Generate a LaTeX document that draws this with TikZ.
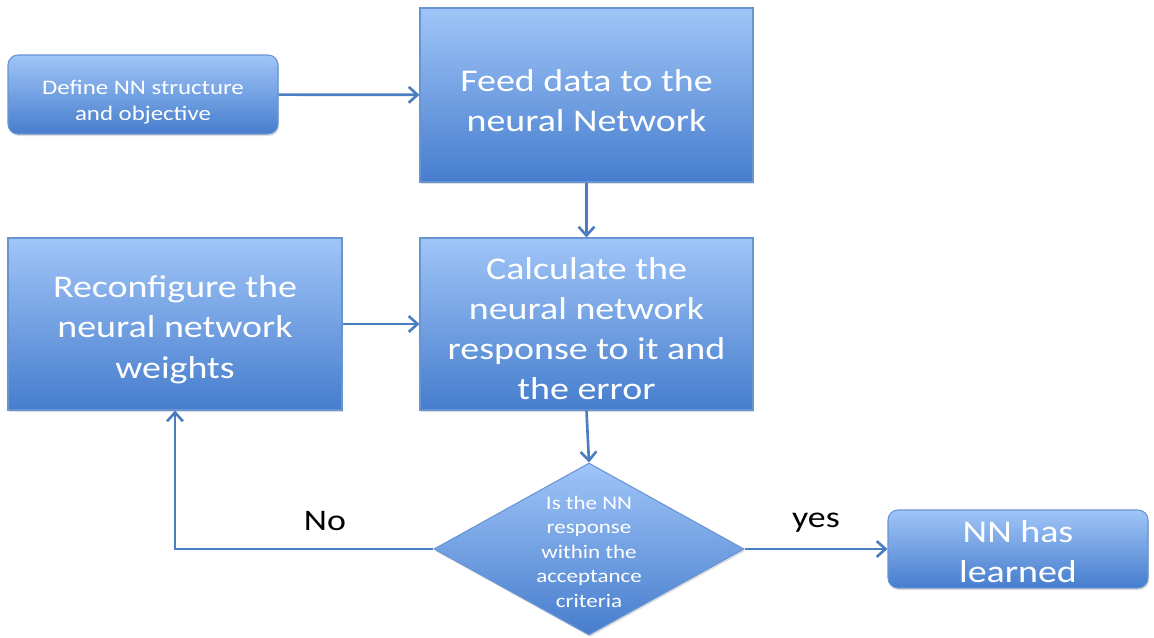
\documentclass[tikz,border=0pt]{standalone}
\usepackage{fontspec}
\setmainfont{Carlito}[FakeStretch=1.2]
\usetikzlibrary{arrows.meta,shapes.geometric,shadows}

\definecolor{boxtop}{RGB}{160,197,248}
\definecolor{boxbot}{RGB}{70,125,205}
\definecolor{boxline}{RGB}{105,148,212}
\definecolor{flow}{RGB}{74,126,193}

% a tall first-line strut that sets the text a little lower in its box
\newcommand{\firstlift}[1]{\rule{0pt}{#1}}

\begin{document}
\begin{tikzpicture}[x=0.02cm,y=-0.02cm,
  blockbase/.style={draw=boxline, line width=0.6pt, shading=axis,
    top color=boxtop, bottom color=boxbot, text=white, align=center,
    inner sep=0pt,
    drop shadow={shadow xshift=0.6pt, shadow yshift=-1.2pt, opacity=0.25}},
  bigbox/.style={blockbase, rectangle, font=\fontsize{18}{22.8}\selectfont},
  roundbox/.style={blockbase, rectangle, rounded corners=0.2cm},
  decision/.style={blockbase, diamond},
  flowline/.style={draw=flow, line width=1.5pt,
    -{Straight Barb[length=5pt,width=9pt,line width=1.5pt]}},
  edgelabel/.style={text=black, font=\fontsize{17}{20}\selectfont, inner sep=0pt, anchor=base}
]
\useasboundingbox (0,0) rectangle (1154,637);

% process steps
\node[roundbox, minimum width=270*0.02cm, minimum height=79*0.02cm,
      font=\fontsize{11.8}{14.7}\selectfont] (define) at (143,94.5)
  {\firstlift{16.5pt}Define NN structure\\and objective};
\node[bigbox, minimum width=333*0.02cm, minimum height=174*0.02cm] (feed) at (586.5,95)
  {\firstlift{18.5pt}Feed data to the\\neural Network};
\node[bigbox, minimum width=333*0.02cm, minimum height=172*0.02cm] (calc) at (586.5,324)
  {\firstlift{17.5pt}Calculate the\\neural network\\response to it and\\the error};
\node[bigbox, minimum width=334*0.02cm, minimum height=172*0.02cm] (reconf) at (175,324)
  {\firstlift{19pt}Reconfigure the\\neural network\\weights};

% decision and outcome
\node[decision, minimum width=310*0.02cm, minimum height=172*0.02cm, aspect=1.8] (dec) at (589,549) {};
\node[text=white, align=center, inner sep=0pt,
      font=\fontsize{10.9}{13.9}\selectfont] (dectext) at (dec.center)
  {\firstlift{10.5pt}Is the NN\\response\\within the\\acceptance\\criteria};
\node[roundbox, minimum width=260*0.02cm, minimum height=78*0.02cm,
      font=\fontsize{18}{22.8}\selectfont] (done) at (1018,549)
  {\firstlift{16pt}NN has\\learned};

% connectors
\draw[flowline] (define) -- (feed);
\draw[flowline] (feed) -- (calc);
\draw[flowline] (reconf) -- (calc);
\draw[flowline] (calc.south) -- (dec.north);
\draw[flowline] (dec.west) -| node[pos=0.21, edgelabel, yshift=10.5pt] {No} (reconf.south);
\draw[flowline] (dec.east) -- node[pos=0.5, edgelabel, yshift=12pt] {yes} (done.west);
\end{tikzpicture}
\end{document}
